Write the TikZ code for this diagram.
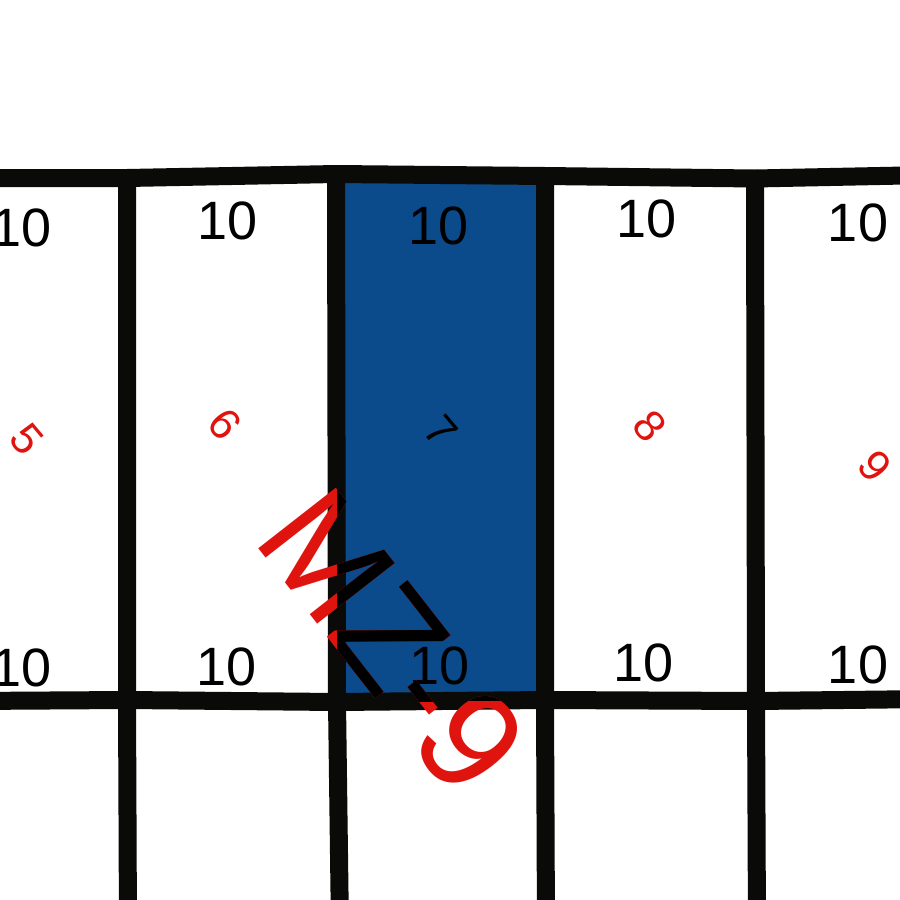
\documentclass[tikz,border=0pt]{standalone}
\usepackage{fontspec}
\setmainfont{Liberation Sans}
\definecolor{cellblue}{HTML}{0B4A8B}
\definecolor{labred}{HTML}{E0140F}
\definecolor{gridblack}{HTML}{0A0A08}
\begin{document}
\begin{tikzpicture}[x=1pt,y=-1pt,
  gridline/.style={line width=18pt, draw=gridblack, line join=miter},
  tenlbl/.style={inner sep=0pt, text=black, font=\fontsize{54}{60}\selectfont},
  numlbl/.style={inner sep=0pt, text=labred, rotate=-50, font=\fontsize{44}{48}\selectfont},
  biglbl/.style={inner sep=0pt, rotate=-52, font=\fontsize{143}{150}\selectfont}]
\useasboundingbox (0,0) rectangle (900,900);
\clip (0,0) rectangle (900,900);
\fill[white] (0,0) rectangle (900,900);
% grid points
\coordinate (T0) at (-30,178);
\coordinate (T1) at (127,178);
\coordinate (T2) at (336,174);
\coordinate (T3) at (545,176);
\coordinate (T4) at (755,178.5);
\coordinate (T5) at (930,175);
\coordinate (B0) at (-30,701);
\coordinate (B1) at (127,700);
\coordinate (B2) at (337,702);
\coordinate (B3) at (545,700);
\coordinate (B4) at (756,701);
\coordinate (B5) at (930,699);
\coordinate (V1) at (128,930);
\coordinate (V2) at (340,930);
\coordinate (V3) at (546,930);
\coordinate (V4) at (757,930);
% highlighted cell
\fill[cellblue] (T2) -- (T3) -- (B3) -- (B2) -- cycle;
% grid lines
\draw[gridline] (T0) -- (T1) -- (T2) -- (T3) -- (T4) -- (T5);
\draw[gridline] (B0) -- (B1) -- (B2) -- (B3) -- (B4) -- (B5);
\draw[gridline] (T1) -- (B1) -- (V1);
\draw[gridline] (T2) -- (B2) -- (V2);
\draw[gridline] (T3) -- (B3) -- (V3);
\draw[gridline] (T4) -- (B4) -- (V4);
% top labels
\node[tenlbl] (t0) at (22,228) {10};
\node[tenlbl] (t1) at (228,221) {10};
\node[tenlbl] (t2) at (439,226) {10};
\node[tenlbl] (t3) at (647,219) {10};
\node[tenlbl] (t4) at (858,223) {10};
% bottom labels
\node[tenlbl] (b0) at (22,668) {10};
\node[tenlbl] (b1) at (227,667) {10};
\node[tenlbl] (b2) at (440,666) {10};
\node[tenlbl] (b3) at (644,663) {10};
\node[tenlbl] (b4) at (858,665) {10};
% cell numbers
\node[numlbl] (n5) at (27,439) {5};
\node[numlbl] (n6) at (225,424) {6};
\node[numlbl, text=black] (n7) at (441,431) {7};
\node[numlbl] (n8) at (650,426) {8};
\node[numlbl] (n9) at (875,466) {9};
% big label, red outside the highlighted cell, black inside
\node[biglbl, text=labred] (mzred) at (393,641) {MZ-9};
\begin{scope}
\clip (T2) -- (T3) -- (B3) -- (B2) -- cycle;
\node[biglbl, text=black] (mzblack) at (393,641) {MZ-9};
\end{scope}
\end{tikzpicture}
\end{document}
